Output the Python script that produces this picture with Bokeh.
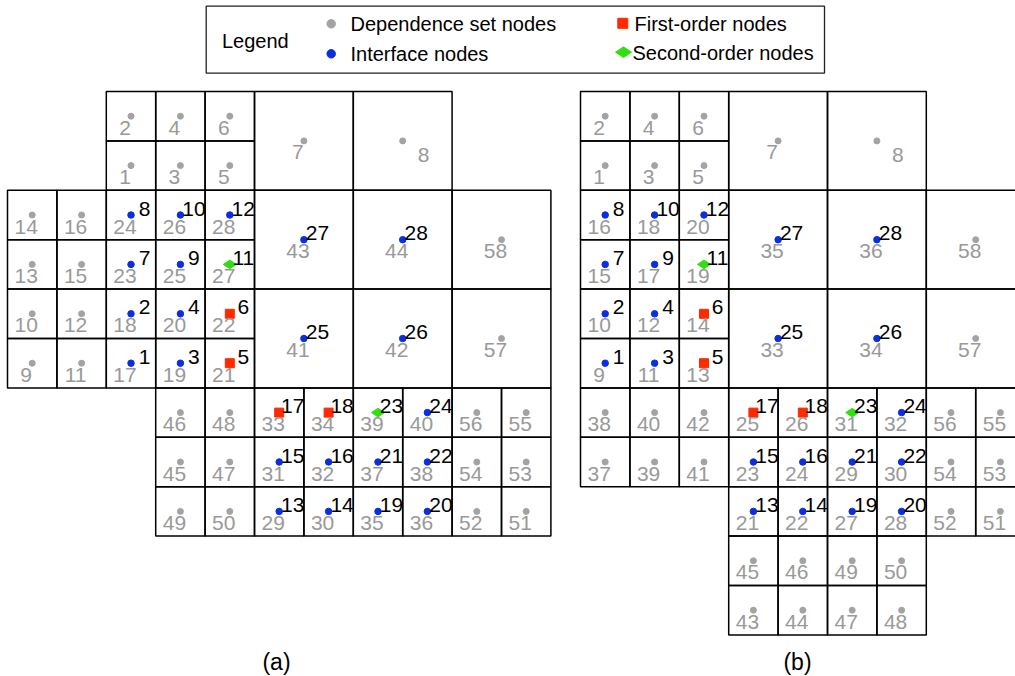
from bokeh.plotting import figure
from bokeh.models import Range1d
from bokeh.core.properties import value
from bokeh.embed import file_html
from bokeh.resources import INLINE

# ---------------- data ----------------
# panel (a): small cells -> (row, first column, node ids left to right)
A_SMALL = [
    (0, 2, [2, 4, 6]),
    (1, 2, [1, 3, 5]),
    (2, 0, [14, 16, 24, 26, 28]),
    (3, 0, [13, 15, 23, 25, 27]),
    (4, 0, [10, 12, 18, 20, 22]),
    (5, 0, [9, 11, 17, 19, 21]),
    (6, 3, [46, 48, 33, 34, 39, 40, 56, 55]),
    (7, 3, [45, 47, 31, 32, 37, 38, 54, 53]),
    (8, 3, [49, 50, 29, 30, 35, 36, 52, 51]),
]
# panel (a): big (2x2) cells -> (row, first column, node ids)
A_BIG = [
    (0, 5, [7, 8]),
    (2, 5, [43, 44, 58]),
    (4, 5, [41, 42, 57]),
]
A_INTERFACE = {17: 1, 18: 2, 19: 3, 20: 4, 23: 7, 24: 8, 25: 9, 26: 10, 28: 12,
               29: 13, 30: 14, 31: 15, 32: 16, 35: 19, 36: 20, 37: 21, 38: 22,
               40: 24, 41: 25, 42: 26, 43: 27, 44: 28}
A_FIRST = {21: 5, 22: 6, 33: 17, 34: 18}
A_SECOND = {27: 11, 39: 23}

# panel (b)
B_SMALL = [
    (0, 0, [2, 4, 6]),
    (1, 0, [1, 3, 5]),
    (2, 0, [16, 18, 20]),
    (3, 0, [15, 17, 19]),
    (4, 0, [10, 12, 14]),
    (5, 0, [9, 11, 13]),
    (6, 0, [38, 40, 42, 25, 26, 31, 32, 56, 55]),
    (7, 0, [37, 39, 41, 23, 24, 29, 30, 54, 53]),
    (8, 3, [21, 22, 27, 28, 52, 51]),
    (9, 3, [45, 46, 49, 50]),
    (10, 3, [43, 44, 47, 48]),
]
B_BIG = [
    (0, 3, [7, 8]),
    (2, 3, [35, 36, 58]),
    (4, 3, [33, 34, 57]),
]
B_INTERFACE = {9: 1, 10: 2, 11: 3, 12: 4, 15: 7, 16: 8, 17: 9, 18: 10, 20: 12,
               21: 13, 22: 14, 23: 15, 24: 16, 27: 19, 28: 20, 29: 21, 30: 22,
               32: 24, 33: 25, 34: 26, 35: 27, 36: 28}
B_FIRST = {13: 5, 14: 6, 25: 17, 26: 18}
B_SECOND = {19: 11, 31: 23}

LEGEND_TITLE = "Legend"
LEGEND_LABELS = ["Dependence set nodes", "Interface nodes",
                 "First-order nodes", "Second-order nodes"]
CAPTIONS = ["(a)", "(b)"]

# ---------------- layout constants ----------------
W, H = 1015, 676
CELL = 49.4          # pixels per grid unit
X0, Y0 = 7.0, 91.0   # page pixel of grid origin (panel a top-left)
B_OFFSET = (580.0 - X0) / CELL   # panel (b) column offset


def gx(px):
    return (px - X0) / CELL


def gy(py):
    return (py - Y0) / CELL


def d(px):
    return px / CELL


FONT = value("Liberation Sans")
GRAY_DOT = "#a3a3a3"
GRAY_TXT = "#999999"
BLUE = "#0a2ee0"
RED = "#ff2a00"
GREEN = "#2fe010"

p = figure(width=W, height=H,
           x_range=Range1d(gx(0), gx(W)),
           y_range=Range1d(gy(H), gy(0)),
           x_axis_type=None, y_axis_type=None,
           output_backend="svg", toolbar_location=None, min_border=0)
p.grid.visible = False
p.outline_line_color = None
p.background_fill_color = "white"


def build(small, big, xoff):
    cells = []
    for row, c0, ids in small:
        for k, n in enumerate(ids):
            cells.append((xoff + c0 + k + 0.5, row + 0.5, 1, n))
    for row, c0, ids in big:
        for k, n in enumerate(ids):
            cells.append((xoff + c0 + 2 * k + 1, row + 1, 2, n))
    return cells


panels = [
    (build(A_SMALL, A_BIG, 0.0), A_INTERFACE, A_FIRST, A_SECOND),
    (build(B_SMALL, B_BIG, B_OFFSET), B_INTERFACE, B_FIRST, B_SECOND),
]

for cells, iface, first, second in panels:
    cx = [c[0] for c in cells]
    cy = [c[1] for c in cells]
    sp = [c[2] for c in cells]
    nid = [c[3] for c in cells]
    p.rect(x=cx, y=cy, width=sp, height=sp, fill_color=None,
           line_color="black", line_width=1.5)

    dep = [i for i, n in enumerate(nid) if n not in iface and n not in first and n not in second]
    ifc = [i for i, n in enumerate(nid) if n in iface]
    fst = [i for i, n in enumerate(nid) if n in first]
    snd = [i for i, n in enumerate(nid) if n in second]

    p.scatter(x=[cx[i] for i in dep], y=[cy[i] for i in dep], marker="circle",
              size=6, color=GRAY_DOT)
    p.scatter(x=[cx[i] for i in ifc], y=[cy[i] for i in ifc], marker="circle",
              size=6.5, color=BLUE)
    p.scatter(x=[cx[i] for i in fst], y=[cy[i] for i in fst], marker="square",
              size=9, color=RED)
    p.scatter(x=[cx[i] for i in snd], y=[cy[i] for i in snd], marker="diamond",
              size=13, angle=1.5708, color=GREEN)

    # gray node numbers (below-left of the dot; node 8 sits to the right)
    gxs = [cx[i] + (d(21) if nid[i] == 8 else d(-6)) for i in range(len(nid))]
    gys = [cy[i] + (d(14) if nid[i] == 8 else d(11.5)) for i in range(len(nid))]
    p.text(x=gxs, y=gys, text=[str(n) for n in nid], text_font=FONT,
           text_font_size="21px", text_color=GRAY_TXT, text_align="center",
           text_baseline="middle")

    # black interface indices (upper-right of the marker)
    lab = {}
    lab.update(iface)
    lab.update(first)
    lab.update(second)
    idx = [i for i, n in enumerate(nid) if n in lab]
    p.text(x=[cx[i] + d(13.5) for i in idx], y=[cy[i] - d(6.5) for i in idx],
           text=[str(lab[nid[i]]) for i in idx], text_font=FONT,
           text_font_size="21px", text_color="black", text_align="center",
           text_baseline="middle")

# ---------------- legend ----------------
p.quad(left=[gx(205.7)], right=[gx(824)], top=[gy(5.7)], bottom=[gy(72.7)],
       fill_color=None, line_color="#202020", line_width=1.3)
p.text(x=[gx(221.5)], y=[gy(40)], text=[LEGEND_TITLE], text_font=FONT,
       text_font_size="20px", text_color="black", text_align="left",
       text_baseline="middle")
p.scatter(x=[gx(330.7)], y=[gy(23.3)], marker="circle", size=8.5, color=GRAY_DOT)
p.scatter(x=[gx(330.7)], y=[gy(53.3)], marker="circle", size=8.5, color=BLUE)
p.scatter(x=[gx(622.3)], y=[gy(22.8)], marker="square", size=10, color=RED)
p.scatter(x=[gx(623)], y=[gy(51.7)], marker="diamond", size=16, angle=1.5708,
          color=GREEN)
p.text(x=[gx(350), gx(350), gx(634), gx(632)],
       y=[gy(23.5), gy(53.5), gy(23), gy(52)],
       text=LEGEND_LABELS, text_font=FONT, text_font_size="20px",
       text_color="black", text_align="left", text_baseline="middle")

# ---------------- captions ----------------
p.text(x=[gx(276), gx(797)], y=[gy(661), gy(661)], text=CAPTIONS, text_font=FONT,
       text_font_size="23px", text_color="black", text_align="center",
       text_baseline="middle")

open("out.html", "w").write(file_html(p, INLINE))
